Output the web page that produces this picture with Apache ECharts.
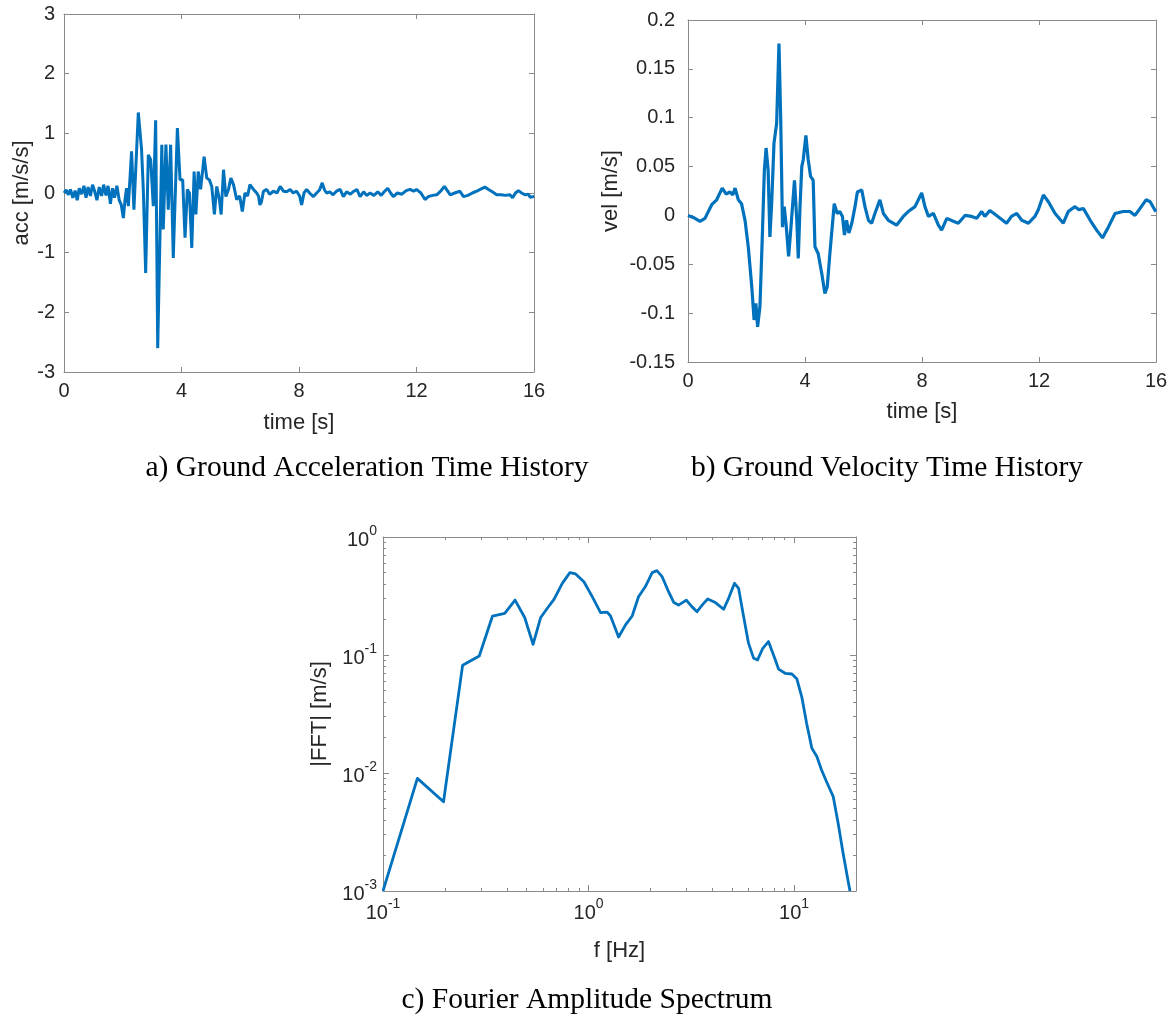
<!DOCTYPE html>
<html>
<head>
<meta charset="utf-8">
<title>Ground motion</title>
<script src="https://cdn.jsdelivr.net/npm/echarts@6/dist/echarts.min.js"></script>
<style>
	html,body{margin:0;padding:0;background:#fff;}
	#main{width:1172px;height:1023px;}
</style>
</head>
<body>
<div id="main"></div>
<script>
/*加速度时程*/
var accTime = [0.00,0.08,0.15,0.22,0.30,0.38,0.45,0.52,0.60,0.68,0.75,0.82,0.90,0.97,1.05,1.12,1.20,1.28,1.35,1.43,1.50,1.58,1.65,1.72,1.80,1.88,1.95,2.02,2.08,2.13,2.19,2.30,2.38,2.53,2.64,2.70,2.78,2.87,2.95,3.04,3.12,3.19,3.27,3.33,3.38,3.47,3.55,3.63,3.72,3.86,3.95,4.04,4.12,4.20,4.27,4.35,4.43,4.49,4.57,4.65,4.77,4.86,4.95,5.03,5.12,5.20,5.29,5.35,5.43,5.51,5.60,5.68,5.77,5.88,5.98,6.07,6.16,6.25,6.33,6.45,6.56,6.62,6.67,6.72,6.79,6.90,7.00,7.13,7.25,7.36,7.47,7.58,7.70,7.80,7.92,8.02,8.09,8.17,8.26,8.36,8.49,8.60,8.70,8.79,8.87,8.94,9.05,9.15,9.28,9.40,9.51,9.62,9.75,9.87,9.97,10.08,10.20,10.30,10.42,10.55,10.68,10.80,10.90,11.02,11.12,11.21,11.35,11.50,11.65,11.78,11.90,12.00,12.06,12.15,12.29,12.40,12.55,12.69,12.82,12.95,13.05,13.15,13.30,13.48,13.60,13.75,13.90,14.05,14.20,14.33,14.45,14.58,14.73,14.88,15.03,15.18,15.27,15.37,15.47,15.58,15.70,15.80,15.87,16.00];
var accValue = [0.00,0.05,-0.03,0.06,-0.08,0.04,-0.12,0.08,-0.02,0.12,-0.08,0.10,-0.05,0.14,0.02,-0.12,0.10,-0.05,0.14,-0.04,0.12,-0.18,0.08,-0.08,0.12,-0.12,-0.20,-0.42,-0.10,0.08,-0.22,0.70,-0.28,1.35,0.73,0.06,-1.34,0.64,0.56,-0.22,1.22,-2.60,-0.67,0.81,-0.61,0.81,-0.28,0.81,-1.09,1.09,0.22,0.22,-0.75,0.06,0.00,-0.92,0.36,-0.36,0.36,0.06,0.61,0.25,0.22,0.11,-0.36,0.11,-0.11,-0.36,0.39,-0.06,0.06,0.25,0.14,-0.11,-0.05,-0.31,0.00,-0.05,0.14,0.06,0.00,-0.05,-0.20,-0.15,0.03,0.06,-0.02,0.03,0.00,0.11,0.03,0.02,0.06,0.00,0.03,-0.05,-0.20,0.00,0.06,0.00,-0.06,0.00,0.05,0.17,0.05,0.00,0.02,-0.03,0.03,0.06,-0.06,0.02,-0.02,0.03,0.06,-0.06,0.02,-0.04,0.00,-0.04,0.02,-0.04,0.02,0.08,0.00,-0.06,0.00,-0.02,0.04,0.06,0.03,0.06,0.08,0.00,-0.11,-0.06,-0.04,-0.03,0.03,0.11,0.04,-0.03,0.00,0.03,-0.06,-0.04,0.00,0.03,0.07,0.10,0.06,0.02,-0.03,-0.03,-0.04,-0.03,-0.08,0.00,0.04,0.00,-0.03,-0.02,-0.07,-0.06];

/*速度时程*/
var velTime = [0.00,0.18,0.41,0.58,0.81,0.98,1.17,1.30,1.44,1.53,1.61,1.72,1.83,1.95,2.06,2.18,2.26,2.32,2.38,2.46,2.54,2.61,2.67,2.74,2.80,2.86,2.94,3.03,3.11,3.17,3.23,3.29,3.35,3.44,3.52,3.64,3.72,3.77,3.83,3.89,3.94,4.03,4.11,4.19,4.28,4.34,4.45,4.57,4.68,4.76,4.85,5.00,5.10,5.19,5.28,5.35,5.42,5.50,5.60,5.71,5.79,5.94,6.05,6.17,6.28,6.39,6.56,6.68,6.85,7.13,7.36,7.53,7.76,7.99,8.10,8.22,8.39,8.56,8.67,8.85,9.07,9.24,9.47,9.70,9.87,10.04,10.15,10.32,10.55,10.89,11.06,11.24,11.41,11.64,11.86,11.98,12.15,12.32,12.55,12.83,13.00,13.23,13.35,13.52,13.75,13.97,14.17,14.37,14.60,14.88,15.11,15.28,15.45,15.66,15.80,15.97,16.00];
var velValue = [0.000,-0.002,-0.006,-0.003,0.011,0.016,0.028,0.022,0.024,0.021,0.028,0.016,0.012,-0.005,-0.032,-0.073,-0.107,-0.090,-0.114,-0.093,-0.022,0.046,0.069,0.046,-0.022,0.012,0.074,0.094,0.176,0.098,-0.012,0.009,-0.008,-0.042,-0.012,0.036,-0.005,-0.044,0.009,0.050,0.057,0.082,0.057,0.040,0.036,-0.032,-0.039,-0.059,-0.080,-0.073,-0.039,0.012,0.002,0.004,-0.001,-0.020,-0.005,-0.018,-0.008,0.009,0.024,0.026,0.009,-0.005,-0.008,0.002,0.016,0.002,-0.005,-0.010,-0.001,0.004,0.009,0.023,0.009,-0.001,0.002,-0.010,-0.015,-0.003,-0.006,-0.008,0.000,-0.001,-0.003,0.004,-0.001,0.005,0.000,-0.008,-0.001,0.002,-0.005,-0.008,-0.001,0.006,0.021,0.014,0.002,-0.008,0.004,0.009,0.006,0.007,-0.005,-0.015,-0.023,-0.012,0.002,0.004,0.004,0.000,0.007,0.016,0.014,0.005,0.004];

/*傅里叶幅值谱*/
var fftFreq = [0.100,0.147,0.197,0.244,0.294,0.341,0.391,0.439,0.489,0.537,0.585,0.630,0.679,0.745,0.811,0.865,0.949,1.042,1.144,1.232,1.279,1.400,1.513,1.63,1.75,1.89,2.04,2.15,2.28,2.45,2.60,2.74,2.99,3.18,3.37,3.61,3.80,4.14,4.54,4.80,5.13,5.37,5.68,6.00,6.35,6.64,7.04,7.50,7.94,8.40,9.04,9.75,10.3,10.9,11.5,12.2,12.9,13.6,14.4,15.5,16.4,17.3,18.4,18.7];
var fftAmp = [0.00100,0.0090,0.0057,0.082,0.098,0.214,0.225,0.292,0.208,0.123,0.208,0.249,0.296,0.405,0.499,0.486,0.418,0.312,0.229,0.231,0.214,0.142,0.180,0.214,0.312,0.380,0.499,0.519,0.461,0.344,0.278,0.265,0.292,0.257,0.233,0.271,0.298,0.278,0.244,0.302,0.405,0.367,0.211,0.126,0.094,0.091,0.114,0.130,0.100,0.076,0.070,0.069,0.063,0.044,0.0264,0.0162,0.0138,0.0106,0.0084,0.0063,0.0037,0.0021,0.00116,0.00100];

var lineColor = '#0072BD';
var boxColor = '#8a8a8a';
var textColor = '#262626';
var sansFont = 'Liberation Sans';

function zip(xs, ys){
	var out = [];
	for (var i = 0; i < xs.length; i++) {
		out.push([xs[i], ys[i]]);
	}
	return out;
}

function supLabel(value){
	var e = Math.round(Math.log(value) / Math.LN10);
	return '{b|10}{s|' + e + '}';
}

var supRich = {
	b: {fontSize: 20, color: textColor, fontFamily: sansFont, verticalAlign: 'bottom', lineHeight: 26},
	s: {fontSize: 14, color: textColor, fontFamily: sansFont, verticalAlign: 'top', lineHeight: 26}
};

/*普通坐标轴*/
function makeAxis(gridIndex, pos, min, max, interval, showLabel, name, nameGap, labelMargin){
	return {
		type: 'value',
		gridIndex: gridIndex,
		position: pos,
		min: min,
		max: max,
		interval: interval,
		name: name || '',
		nameLocation: 'middle',
		nameGap: nameGap || 0,
		nameMoveOverlap: false,
		nameTextStyle: {fontSize: 22, color: textColor, fontFamily: sansFont},
		axisLine: {show: true, onZero: false, lineStyle: {color: boxColor, width: 1}},
		axisTick: {show: true, inside: true, length: 5, lineStyle: {color: boxColor}},
		axisLabel: {show: showLabel, fontSize: 20, color: textColor, fontFamily: sansFont, margin: labelMargin || 9},
		splitLine: {show: false}
	};
}

/*对数坐标轴*/
function makeLogAxis(gridIndex, pos, min, max, showLabel, name, nameGap){
	return {
		type: 'log',
		logBase: 10,
		gridIndex: gridIndex,
		position: pos,
		min: min,
		max: max,
		name: name || '',
		nameLocation: 'middle',
		nameGap: nameGap || 0,
		nameMoveOverlap: false,
		nameTextStyle: {fontSize: 22, color: textColor, fontFamily: sansFont},
		axisLine: {show: true, onZero: false, lineStyle: {color: boxColor, width: 1}},
		axisTick: {show: true, inside: true, length: 6, lineStyle: {color: boxColor}},
		minorTick: {show: true, splitNumber: 9, length: 3, lineStyle: {color: boxColor}},
		axisLabel: {show: showLabel, formatter: supLabel, rich: supRich, margin: 6, showMaxLabel: pos == 'left'},
		splitLine: {show: false}
	};
}

var myChart = echarts.init(document.getElementById('main'));
var option = {
	animation: false,
	backgroundColor: '#fff',
	grid: [
		{left: 64, top: 14, width: 470, height: 358},
		{left: 688, top: 20, width: 468, height: 342},
		{left: 383, top: 537, width: 473, height: 354}
	],
	xAxis: [
		makeAxis(0, 'bottom', 0, 16, 4, true, 'time [s]', 40),
		makeAxis(0, 'top', 0, 16, 4, false),
		makeAxis(1, 'bottom', 0, 16, 4, true, 'time [s]', 39),
		makeAxis(1, 'top', 0, 16, 4, false),
		makeLogAxis(2, 'bottom', 0.1, 20, true, 'f [Hz]', 49),
		makeLogAxis(2, 'top', 0.1, 20, false)
	],
	yAxis: [
		makeAxis(0, 'left', -3, 3, 1, true, 'acc [m/s/s]', 31),
		makeAxis(0, 'right', -3, 3, 1, false),
		makeAxis(1, 'left', -0.15, 0.2, 0.05, true, 'vel [m/s]', 66, 13),
		makeAxis(1, 'right', -0.15, 0.2, 0.05, false),
		makeLogAxis(2, 'left', 0.001, 1, true, '|FFT| [m/s]', 52),
		makeLogAxis(2, 'right', 0.001, 1, false)
	],
	series: [
		{type: 'line', xAxisIndex: 0, yAxisIndex: 0, data: zip(accTime, accValue), showSymbol: false, lineStyle: {color: lineColor, width: 3}, itemStyle: {color: lineColor}},
		{type: 'line', xAxisIndex: 2, yAxisIndex: 2, data: zip(velTime, velValue), showSymbol: false, lineStyle: {color: lineColor, width: 3.2}, itemStyle: {color: lineColor}},
		{type: 'line', xAxisIndex: 4, yAxisIndex: 4, data: zip(fftFreq, fftAmp), showSymbol: false, lineStyle: {color: lineColor, width: 2.8, join: 'round'}, itemStyle: {color: lineColor}}
	],
	graphic: [
		{type: 'text', x: 367, y: 468, style: {text: 'a) Ground Acceleration Time History', font: '29.5px "Liberation Serif"', fill: '#000', align: 'center', verticalAlign: 'middle'}},
		{type: 'text', x: 887, y: 468, style: {text: 'b) Ground Velocity Time History', font: '29.5px "Liberation Serif"', fill: '#000', align: 'center', verticalAlign: 'middle'}},
		{type: 'text', x: 587, y: 1000, style: {text: 'c) Fourier Amplitude Spectrum', font: '29.5px "Liberation Serif"', fill: '#000', align: 'center', verticalAlign: 'middle'}}
	]
};
myChart.setOption(option);
</script>
</body>
</html>
